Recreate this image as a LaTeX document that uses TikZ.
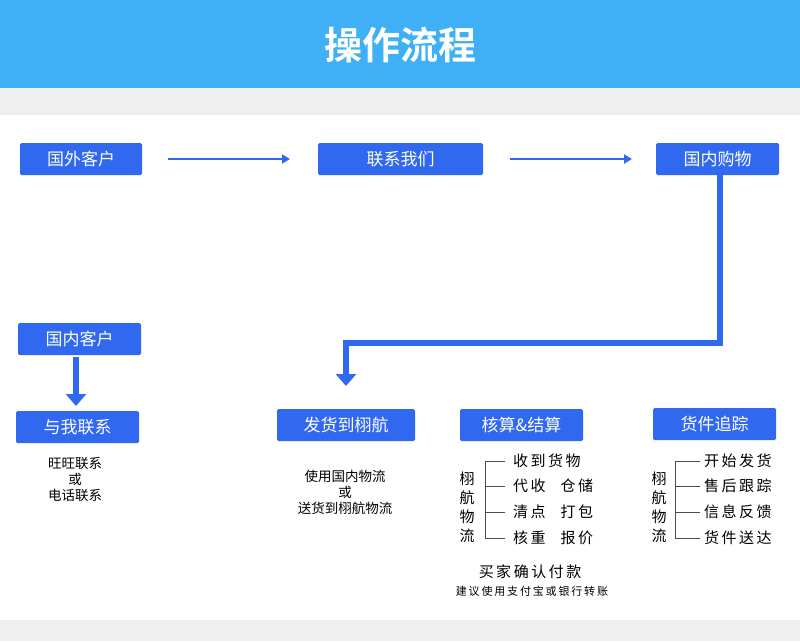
\documentclass[tikz,border=0pt]{standalone}
\usepackage{fontspec}
\setmainfont{Noto Sans CJK SC}
\newfontfamily\cjkb{Noto Sans CJK SC Bold}
\usetikzlibrary{arrows.meta}
\definecolor{bb}{HTML}{3068F0}
\definecolor{hb}{HTML}{3FB0F5}
\begin{document}
\begin{tikzpicture}[x=1pt,y=-1pt,
  bbox/.style={fill=bb,rounded corners=1.5pt,text=white,font=\fontsize{17}{17}\selectfont,inner sep=0pt},
  thin arr/.style={draw=bb,line width=2.5pt,-{Triangle[length=8pt,width=9pt]}},
  thick arr/.style={draw=bb,line width=6pt,-{Triangle[length=12pt,width=20pt]}},
  itm/.style={anchor=west,font=\fontsize{15}{15}\selectfont,inner sep=0pt},
  br/.style={draw=black!70,line width=0.8pt},
  lbl/.style={font=\fontsize{13.5}{16}\selectfont,align=center,inner sep=0pt}]
\useasboundingbox (0,0) rectangle (800,641);
\fill[white] (0,0) rectangle (800,641);
\fill[hb] (0,0) rectangle (800,88);
\fill[black!6] (0,88) rectangle (800,115);
\fill[black!6] (0,620) rectangle (800,641);
\node[text=white,font=\cjkb\fontsize{38}{38}\selectfont] (title) at (400,45) {操作流程};
\node[bbox,minimum width=122pt,minimum height=32pt] (gw) at (81,159) {国外客户};
\node[bbox,minimum width=165pt,minimum height=32pt] (lx) at (400.5,159) {联系我们};
\node[bbox,minimum width=123pt,minimum height=32pt] (gn) at (717.5,159) {国内购物};
\coordinate (a1) at (168,159); \coordinate (a2) at (290,159);
\coordinate (b1) at (510,159); \coordinate (b2) at (632,159);
\draw[thin arr] (a1) -- (a2);
\draw[thin arr] (b1) -- (b2);
\node[bbox,minimum width=123pt,minimum height=32pt] (gk) at (79.5,339) {国内客户};
\node[bbox,minimum width=123pt,minimum height=32pt] (yw) at (77.5,427) {与我联系};
\node[bbox,minimum width=138pt,minimum height=32pt] (fh) at (346,425) {发货到栩航};
\node[bbox,minimum width=123pt,minimum height=32pt] (hs) at (521.5,425) {核算\&结算};
\node[bbox,minimum width=123pt,minimum height=32pt] (hj) at (714.5,424) {货件追踪};
\coordinate (c1) at (720,343); \coordinate (c2) at (346,343); \coordinate (c3) at (346,386);
\draw[thick arr] (gn.south -| c1) -- (c1) -- (c2) -- (c3);
\coordinate (d1) at (76,357); \coordinate (d2) at (76,406);
\draw[thick arr] (d1) -- (d2);
\node[lbl] (t1) at (75,479) {旺旺联系\\或\\电话联系};
\node[lbl] (t2) at (345,492) {使用国内物流\\或\\送货到栩航物流};
% bracket 1
\node[lbl,font=\fontsize{15}{19}\selectfont] (v1) at (467,507) {栩\\航\\物\\流};
\draw[br] (505,461) -- (485,461) -- (485,538) -- (505,538);
\draw[br] (485,486) -- (505,486); \draw[br] (485,512) -- (505,512);
\node[itm] (i1) at (513,461) {收\,到\,货\,物};
\node[itm] (i2) at (513,486) {代\,收\quad 仓\,储};
\node[itm] (i3) at (513,512) {清\,点\quad 打\,包};
\node[itm] (i4) at (513,538) {核\,重\quad 报\,价};
\node[font=\fontsize{15}{15}\selectfont,inner sep=0pt] (q1) at (530,572) {买\,家\,确\,认\,付\,款};
\node[font=\fontsize{11}{11}\selectfont,inner sep=0pt] (q2) at (532,591) {建\,议\,使\,用\,支\,付\,宝\,或\,银\,行\,转\,账};
% bracket 2
\node[lbl,font=\fontsize{15}{19}\selectfont] (v2) at (659,507) {栩\\航\\物\\流};
\draw[br] (700,461) -- (675,461) -- (675,538) -- (700,538);
\draw[br] (675,486) -- (700,486); \draw[br] (675,512) -- (700,512);
\node[itm] (j1) at (704,461) {开\,始\,发\,货};
\node[itm] (j2) at (704,486) {售\,后\,跟\,踪};
\node[itm] (j3) at (704,512) {信\,息\,反\,馈};
\node[itm] (j4) at (704,538) {货\,件\,送\,达};
\end{tikzpicture}
\end{document}
